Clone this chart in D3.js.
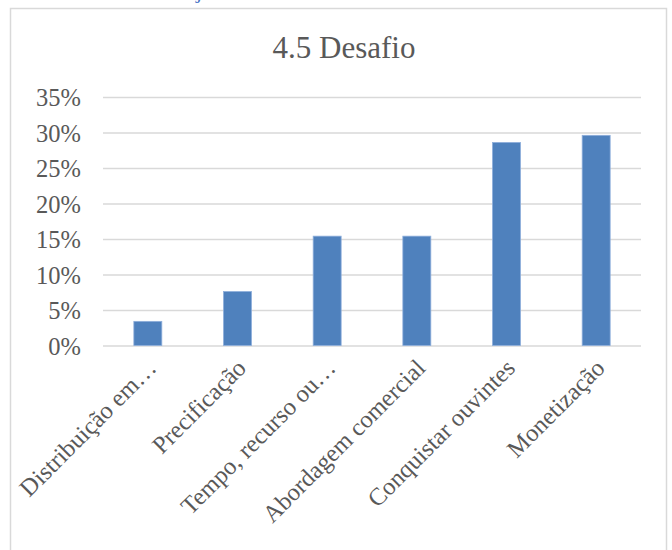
<!DOCTYPE html>
<html>
<head>
<meta charset="utf-8">
<script src="https://cdn.jsdelivr.net/npm/d3@7/dist/d3.min.js"></script>
<style>
  html, body { margin: 0; padding: 0; background: #ffffff; }
  svg { display: block; }
</style>
</head>
<body>
<svg id="chart" width="672" height="550"></svg>
<script>
const title = "4.5 Desafio";
const categories = [
  "Distribuição em…",
  "Precificação",
  "Tempo, recurso ou…",
  "Abordagem comercial",
  "Conquistar ouvintes",
  "Monetização"
];
const values = [0.034, 0.076, 0.154, 0.154, 0.286, 0.296];
const yTicks = [0, 0.05, 0.10, 0.15, 0.20, 0.25, 0.30, 0.35];

const FONT = "'Liberation Serif', 'DejaVu Serif', serif";
const TEXT = "#595959";
const GRID = "#d9d9d9";
const BAR = "#4f81bd";

const svg = d3.select("#chart");

// fragment of the document heading above the chart frame
svg.append("text")
  .attr("x", 196).attr("y", -2)
  .attr("font-family", FONT).attr("font-size", 22)
  .attr("fill", "#4472c4")
  .text("j");

// chart frame
svg.append("rect")
  .attr("x", 10.5).attr("y", 8.5)
  .attr("width", 656).attr("height", 560)
  .attr("fill", "#ffffff")
  .attr("stroke", GRID).attr("stroke-width", 1.5);

const pLeft = 103, pRight = 641, pTop = 97, pBottom = 345.5;

const x = d3.scaleBand()
  .domain(categories)
  .range([pLeft, pRight])
  .paddingInner(0.688)
  .paddingOuter(0.344);

const y = d3.scaleLinear()
  .domain([0, 0.35])
  .range([pBottom, pTop]);

// title
svg.append("text")
  .attr("x", 344).attr("y", 58)
  .attr("text-anchor", "middle")
  .attr("font-family", FONT).attr("font-size", 31)
  .attr("fill", TEXT)
  .text(title);

// gridlines + y labels via axis
const yAxis = d3.axisLeft(y)
  .tickValues(yTicks)
  .tickSize(-(pRight - pLeft))
  .tickPadding(22)
  .tickFormat(d3.format(".0%"));

const gy = svg.append("g")
  .attr("transform", `translate(${pLeft},0)`)
  .call(yAxis);
gy.select(".domain").remove();
gy.selectAll(".tick line")
  .attr("stroke", GRID).attr("stroke-width", 1.6);
gy.selectAll(".tick text")
  .attr("font-family", FONT).attr("font-size", 24.5)
  .attr("fill", TEXT)
  .attr("dy", "0.35em");

// bars
svg.append("g").selectAll("rect")
  .data(values)
  .join("rect")
  .attr("x", (d, i) => x(categories[i]))
  .attr("y", d => y(d))
  .attr("width", x.bandwidth())
  .attr("height", d => y(0) - y(d))
  .attr("fill", BAR)
  .attr("stroke", "#8eaedb")
  .attr("stroke-width", 0.8);

// x axis labels
const xAxis = d3.axisBottom(x).tickSize(0).tickPadding(0);
const gx = svg.append("g")
  .attr("transform", `translate(0,${pBottom})`)
  .call(xAxis);
gx.select(".domain").remove();
gx.selectAll(".tick text")
  .attr("font-family", FONT).attr("font-size", 24.5)
  .attr("fill", TEXT)
  .attr("text-anchor", "end")
  .attr("dy", null)
  .attr("transform", "translate(10,24) rotate(-45)");
</script>
</body>
</html>
